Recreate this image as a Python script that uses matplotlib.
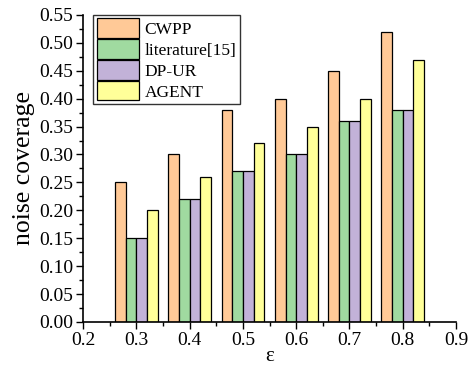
import numpy as np
import matplotlib.pyplot as plt
from matplotlib.ticker import MultipleLocator

plt.rcParams['font.family'] = ['Liberation Serif', 'DejaVu Serif']

eps = [0.3, 0.4, 0.5, 0.6, 0.7, 0.8]
cwpp = [0.25, 0.30, 0.38, 0.40, 0.45, 0.52]
lit15 = [0.15, 0.22, 0.27, 0.30, 0.36, 0.38]
dpur = [0.15, 0.22, 0.27, 0.30, 0.36, 0.38]
agent = [0.20, 0.26, 0.32, 0.35, 0.40, 0.47]

names = ['CWPP', 'literature[15]', 'DP-UR', 'AGENT']
colors = ['#FFC997', '#A0DAA0', '#C2B2D8', '#FFFF99']

fig = plt.figure(figsize=(4.75, 3.65), dpi=100)
ax = fig.add_axes([0.175, 0.118, 0.785, 0.841])

w = 0.02
x = np.array(eps)
for i, (vals, nm, c) in enumerate(zip([cwpp, lit15, dpur, agent], names, colors)):
    ax.bar(x + (i - 1.5) * w, vals, width=w, color=c, edgecolor='black',
           linewidth=0.9, label=nm)

ax.set_xlim(0.2, 0.9)
ax.set_ylim(0, 0.55)
ax.xaxis.set_major_locator(MultipleLocator(0.1))
ax.xaxis.set_minor_locator(MultipleLocator(0.05))
ax.yaxis.set_major_locator(MultipleLocator(0.05))
ax.yaxis.set_minor_locator(MultipleLocator(0.025))
ax.xaxis.set_major_formatter(plt.FuncFormatter(lambda v, p: '%.1f' % v))
ax.yaxis.set_major_formatter(plt.FuncFormatter(lambda v, p: '%.2f' % v))
ax.tick_params(which='both', direction='out', labelsize=14, width=1, pad=2)
ax.tick_params(which='major', length=5)
ax.tick_params(which='minor', length=3)
for s in ['top', 'right']:
    ax.spines[s].set_visible(False)
for s in ['left', 'bottom']:
    ax.spines[s].set_linewidth(1.2)

ax.set_xlabel('ε', fontsize=15, labelpad=-1.5)
ax.set_ylabel('noise coverage', fontsize=18.5, labelpad=3)

leg = ax.legend(loc='upper left', bbox_to_anchor=(0.018, 1.012), fontsize=12.5,
                frameon=True, fancybox=False, edgecolor='black',
                handlelength=2.45, handleheight=1.35, handletextpad=0.3,
                labelspacing=0.08, borderpad=0.2, borderaxespad=0.2)
leg.get_frame().set_linewidth(1.0)

fig.savefig('out.png', dpi=100)
